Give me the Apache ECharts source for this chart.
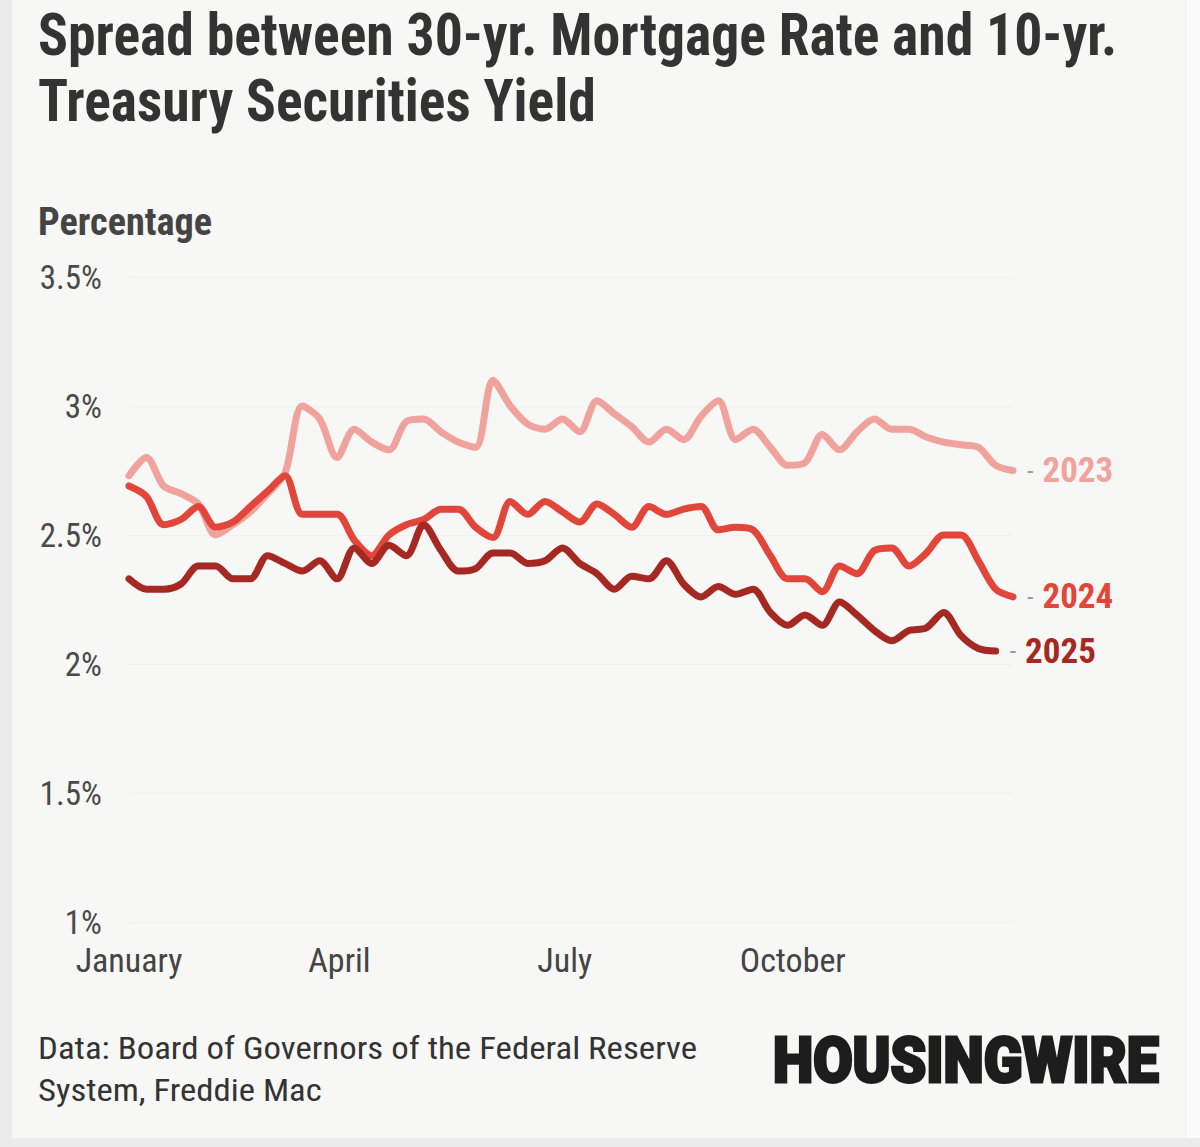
<!DOCTYPE html>
<html><head><meta charset="utf-8">
<script src="https://cdn.jsdelivr.net/npm/echarts@6/dist/echarts.min.js"></script>
<style>
html,body{margin:0;padding:0;width:1200px;height:1147px;overflow:hidden;background:#fbfbfb;}
#bgL{position:absolute;left:0;top:0;width:12px;height:1147px;background:#ebebeb;}
#bgB{position:absolute;left:0;top:1138px;width:1200px;height:9px;background:#ebebeb;}
#panel{position:absolute;left:12px;top:0;width:1175px;height:1138px;background:#f7f7f6;}
#chart{position:absolute;left:0;top:0;width:1200px;height:1147px;}
</style></head><body>
<div id="bgL"></div><div id="bgB"></div><div id="panel"></div><div id="chart"></div>
<script>
// Weekly spread values (percent), week 0 = first week of January
const spread2023 = [2.73,2.80,2.69,2.66,2.62,2.50,2.54,2.59,2.66,2.74,3.00,2.95,2.80,2.91,2.86,2.83,2.94,2.95,2.90,2.86,2.84,3.10,3.00,2.93,2.91,2.95,2.90,3.02,2.97,2.92,2.86,2.91,2.87,2.96,3.02,2.87,2.91,2.84,2.77,2.78,2.89,2.83,2.90,2.95,2.91,2.91,2.88,2.86,2.85,2.84,2.77,2.75];
const spread2024 = [2.69,2.65,2.54,2.56,2.61,2.53,2.55,2.61,2.67,2.73,2.58,2.58,2.58,2.48,2.42,2.50,2.54,2.56,2.60,2.60,2.53,2.49,2.63,2.58,2.63,2.59,2.55,2.62,2.58,2.53,2.61,2.58,2.60,2.61,2.52,2.53,2.52,2.42,2.33,2.33,2.28,2.38,2.35,2.44,2.45,2.38,2.43,2.50,2.50,2.40,2.29,2.26];
const spread2025 = [2.33,2.29,2.29,2.31,2.38,2.38,2.33,2.33,2.42,2.39,2.36,2.40,2.33,2.45,2.39,2.46,2.42,2.54,2.44,2.36,2.37,2.43,2.43,2.39,2.40,2.45,2.39,2.35,2.29,2.34,2.33,2.40,2.31,2.26,2.30,2.27,2.29,2.20,2.15,2.19,2.15,2.24,2.19,2.13,2.09,2.13,2.14,2.20,2.11,2.06,2.05];
const seriesNames = ['2023','2024','2025'];
const monthLabels = ['January','April','July','October'];
const monthWeeks = [0, 12.14, 25.14, 38.29];

const colors = ['#f0a29c','#e2463a','#a52822'];
const FF = "'Roboto Condensed','Liberation Sans Narrow','DejaVu Sans Condensed',Roboto,sans-serif";

const mctx = document.createElement('canvas').getContext('2d');
function fitX(text, weight, size, family, target){
  mctx.font = weight + ' ' + size + 'px ' + family;
  return target / mctx.measureText(text).width;
}
function txt(text, x, y, size, weight, color, targetW, family, strokeW){
  family = family || FF;
  const st = {text:text, fontSize:size, fontWeight:weight, fontFamily:family, fill:color,
      align:'left', textAlign:'left', verticalAlign:'middle', textVerticalAlign:'middle'};
  if (strokeW) { st.stroke = color; st.lineWidth = strokeW; }
  return {type:'text', x:x, y:y, scaleX: fitX(text, weight, size, family, targetW), silent:true, style:st};
}

const chart = echarts.init(document.getElementById('chart'), null, {renderer:'svg', width:1200, height:1147});
const allData = [spread2023, spread2024, spread2025];
chart.setOption({
  animation:false,
  backgroundColor:'transparent',
  grid:{left:129, right:187, top:277, bottom:225, containLabel:false, outerBoundsMode:'none'},
  xAxis:{type:'value', min:0, max:51,
    axisLine:{show:false}, axisTick:{show:false}, splitLine:{show:false},
    axisLabel:{customValues:monthWeeks, fontSize:34, color:'#444', fontFamily:FF, margin:21,
      formatter:function(v){let b=0,d=1e9;monthWeeks.forEach((m,i)=>{if(Math.abs(m-v)<d){d=Math.abs(m-v);b=i;}});return monthLabels[b];}}},
  yAxis:{type:'value', min:1, max:3.5, interval:0.5,
    axisLine:{show:false}, axisTick:{show:false},
    splitLine:{show:true, lineStyle:{color:'#f1f1f0', width:1}},
    axisLabel:{fontSize:33, color:'#4a4a4a', fontFamily:FF, margin:27, formatter:function(v){return v+'%';}}},
  series: allData.map((arr, k) => ({
    type:'line', name:seriesNames[k], data:arr.map((v,i)=>[i,v]),
    symbol:'none', smooth:0.3,
    lineStyle:{color:colors[k], width:7, cap:'round', join:'round'},
    endLabel:{show:true, distance:14, formatter:'{d|-}{y|' + seriesNames[k] + '}',
      rich:{d:{color:'#9a9a9a', fontSize:26, fontFamily:FF, padding:[0,9,0,0]}, y:{color:colors[k], fontSize:35, fontWeight:'bold', fontFamily:FF}}}
  })),
  graphic:[
    txt('Spread between 30-yr. Mortgage Rate and 10-yr.', 38, 35, 59, 'bold', '#333', 1079),
    txt('Treasury Securities Yield', 38, 101, 59, 'bold', '#333', 558),
    txt('Percentage', 38, 222, 38, 'bold', '#444', 174),
    txt('Data: Board of Governors of the Federal Reserve', 38, 1048, 31, 'normal', '#333', 659),
    txt('System, Freddie Mac', 38, 1090, 31, 'normal', '#333', 284),
    txt('HOUSINGWIRE', 773, 1061, 63, '900', '#1d1d1d', 386, "Roboto,'DejaVu Sans',sans-serif", 3)
  ]
});
</script>
</body></html>
